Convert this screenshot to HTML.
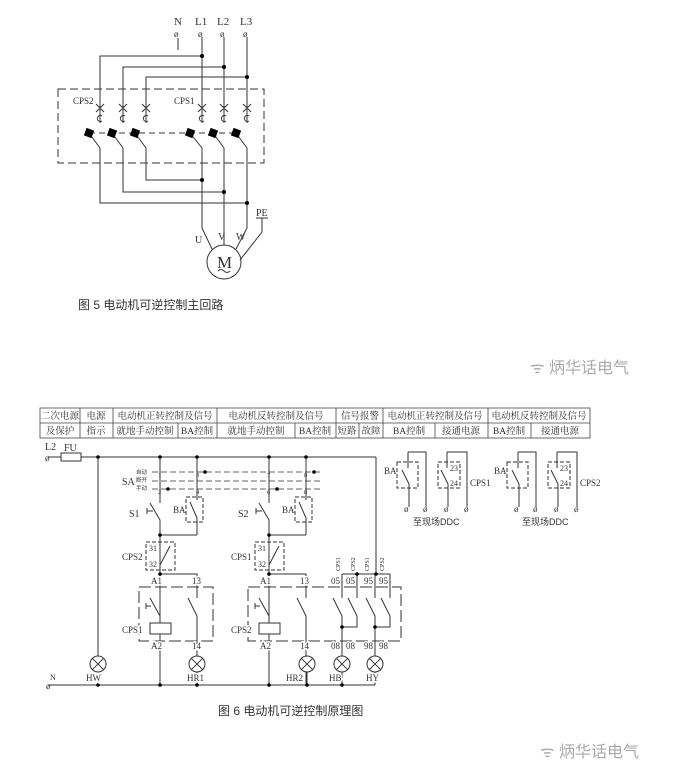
<!DOCTYPE html>
<html><head><meta charset="utf-8"><style>
html,body{margin:0;padding:0;background:#fff;}
svg{display:block;}
text{font-family:"Liberation Serif","Noto Serif CJK SC",serif;fill:#333;}
.cj{font-family:"Liberation Sans","Noto Sans CJK SC",sans-serif;}
.h{paint-order:stroke;stroke:#fff;stroke-width:3px;}
</style></head><body>
<svg width="690" height="778" viewBox="0 0 690 778" xmlns="http://www.w3.org/2000/svg">
<rect width="690" height="778" fill="#fff"/>
<g stroke="#333" stroke-width="1" fill="none">
<!-- ===== Figure 5 ===== -->
<rect x="58" y="89" width="206" height="74" stroke-dasharray="8,4"/>
<line x1="178" y1="38" x2="178" y2="50"/>
<line x1="202" y1="37" x2="202" y2="123"/>
<line x1="224" y1="37" x2="224" y2="123"/>
<line x1="247" y1="37" x2="247" y2="123"/>
<polyline points="202,56 100,56 100,123"/>
<polyline points="224,67 123,67 123,123"/>
<polyline points="247,77 146,77 146,123"/>
<g>
<path d="M96,104 l8,8 M104,104 l-8,8 M119,104 l8,8 M127,104 l-8,8 M142,104 l8,8 M150,104 l-8,8 M198,104 l8,8 M206,104 l-8,8 M220,104 l8,8 M228,104 l-8,8 M243,104 l8,8 M251,104 l-8,8"/>
<path d="M102,116 a3,3 0 1 0 0,5 M125,116 a3,3 0 1 0 0,5 M148,116 a3,3 0 1 0 0,5 M204,116 a3,3 0 1 0 0,5 M226,116 a3,3 0 1 0 0,5 M249,116 a3,3 0 1 0 0,5"/>
</g>
<line x1="89" y1="133" x2="236" y2="133" stroke-dasharray="6,4"/>
<path d="M89,133 L100,148 L100,203 L247,203 M112,133 L123,148 L123,192 L224,192 M135,133 L146,148 L146,180 L202,180"/>
<path d="M190,133 L202,148 L202,228 L212,249 M213,133 L224,148 L224,245 M236,133 L247,148 L247,228 L236,249"/>
<path d="M262,218 L262,232 L240,260"/>
<line x1="256" y1="218" x2="268" y2="218"/>
<circle cx="224" cy="262" r="17"/>
<path d="M218,271 q3,-3 6,0 q3,3 6,0"/>
</g>
<g fill="#000">
<rect x="85" y="129" width="8" height="8" transform="rotate(20 89 133)"/>
<rect x="108" y="129" width="8" height="8" transform="rotate(20 112 133)"/>
<rect x="131" y="129" width="8" height="8" transform="rotate(20 135 133)"/>
<rect x="186" y="129" width="8" height="8" transform="rotate(20 190 133)"/>
<rect x="209" y="129" width="8" height="8" transform="rotate(20 213 133)"/>
<rect x="232" y="129" width="8" height="8" transform="rotate(20 236 133)"/>
<circle cx="202" cy="56" r="2"/><circle cx="224" cy="67" r="2"/><circle cx="247" cy="77" r="2"/>
<circle cx="202" cy="180" r="2"/><circle cx="224" cy="192" r="2"/><circle cx="247" cy="203" r="2"/>
</g>
<g font-size="11">
<text x="174" y="25">N</text><text x="195" y="25">L1</text><text x="217" y="25">L2</text><text x="240" y="25">L3</text>
<text x="174" y="37" font-size="9">ø</text><text x="198" y="37" font-size="9">ø</text><text x="220" y="37" font-size="9">ø</text><text x="243" y="37" font-size="9">ø</text>
<text x="73" y="104" font-size="9">CPS2</text><text x="174" y="104" font-size="9">CPS1</text>
<text x="195" y="243" font-size="10">U</text><text x="218" y="240" font-size="10">V</text><text x="236" y="240" font-size="10">W</text>
<text x="256" y="216" font-size="10">PE</text>
<text x="217" y="268" font-size="17">M</text>
</g>
<text class="cj" x="78" y="309" font-size="12">图 5  电动机可逆控制主回路</text>
<text class="cj" x="530" y="373" font-size="16" style="fill:#aaa">ᯤ 炳华话电气</text>

<!-- ===== Figure 6 table ===== -->
<g stroke="#444" stroke-width="0.8" fill="none">
<rect x="40" y="408" width="550" height="30"/>
<line x1="40" y1="423" x2="590" y2="423"/>
<path d="M80,408V438 M113,408V438 M217,408V438 M336,408V438 M383,408V438 M488,408V438"/>
<path d="M178,423V438 M295,423V438 M359,423V438 M435,423V438 M531,423V438"/>
</g>
<g class="cj" font-size="9.5" fill="#333" text-anchor="middle">
<text x="60" y="419">二次电源</text><text x="60" y="434">及保护</text>
<text x="96" y="419">电源</text><text x="96" y="434">指示</text>
<text x="165" y="419">电动机正转控制及信号</text>
<text x="276" y="419">电动机反转控制及信号</text>
<text x="360" y="419">信号报警</text>
<text x="435" y="419">电动机正转控制及信号</text>
<text x="539" y="419">电动机反转控制及信号</text>
<text x="145" y="434">就地手动控制</text><text x="197" y="434">BA控制</text>
<text x="256" y="434">就地手动控制</text><text x="315" y="434">BA控制</text>
<text x="347" y="434">短路</text><text x="371" y="434">故障</text>
<text x="409" y="434">BA控制</text><text x="461" y="434">接通电源</text>
<text x="509" y="434">BA控制</text><text x="560" y="434">接通电源</text>
</g>

<!-- ===== Figure 6 circuit ===== -->
<g stroke="#333" stroke-width="1" fill="none">
<line x1="48" y1="457" x2="61" y2="457"/>
<rect x="61" y="453" width="20" height="8"/>
<line x1="81" y1="457" x2="376" y2="457"/>
<line x1="376" y1="457" x2="376" y2="574"/>
<line x1="98" y1="457" x2="98" y2="656"/>
<line x1="48" y1="685" x2="375" y2="685"/>
<g stroke-dasharray="6,3" stroke-width="0.8">
<line x1="152" y1="472" x2="322" y2="472"/>
<line x1="152" y1="481" x2="322" y2="481"/>
<line x1="152" y1="489" x2="322" y2="489"/>
</g>
<g id="grp">
<path d="M160,457V503 M150,503 L160,520 V573 V623 M160,634 V685"/>
<path d="M153,511 h-6 M147,508 v6 M150,511 h3"/>
<path d="M197,457V500 M190,502 L197,518 V535 M160,535 H197"/>
<rect x="186" y="497" width="17" height="25" stroke-dasharray="4,2"/>
<rect x="146" y="542" width="29" height="28" stroke-dasharray="4,2"/>
<path d="M170,546 L160,565"/>
<path d="M160,574 H197 V598 M188,598 L197,616 V656 M197,672 V685"/>
<path d="M150,598 L160,616"/>
<path d="M151,606 h-5 M146,603 v6"/>
<rect x="150" y="623" width="21" height="11"/>
</g>
<use href="#grp" x="109"/>
<rect x="139" y="587" width="74" height="54" stroke-dasharray="12,4"/>
<rect x="248" y="587" width="153" height="54" stroke-dasharray="12,4"/>
<path d="M342,574 H390 M342,574 V598 M357,574 V598 M375,574 V598 M390,574 V598"/>
<path d="M333,598 L342,616 V656 M348,598 L357,616 V627 H342 M366,598 L375,616 V656 M381,598 L390,616 V627 H375 M342,672V685 M375,672V685"/>
<line x1="307" y1="672" x2="307" y2="685"/>
<g>
<circle cx="98" cy="664" r="8"/><path d="M92.3,658.3l11.4,11.4M103.7,658.3l-11.4,11.4"/>
<circle cx="197" cy="664" r="8"/><path d="M191.3,658.3l11.4,11.4M202.7,658.3l-11.4,11.4"/>
<circle cx="307" cy="664" r="8"/><path d="M301.3,658.3l11.4,11.4M312.7,658.3l-11.4,11.4"/>
<circle cx="342" cy="664" r="8"/><path d="M336.3,658.3l11.4,11.4M347.7,658.3l-11.4,11.4"/>
<circle cx="375" cy="664" r="8"/><path d="M369.3,658.3l11.4,11.4M380.7,658.3l-11.4,11.4"/>
</g>
<g id="ddc">
<rect x="397" y="462" width="21" height="26" stroke-dasharray="4,2"/>
<path d="M408,452 H426 V507 M408,452 V468 M402,470 L409,484 V507"/>
<rect x="438" y="462" width="22" height="26" stroke-dasharray="4,2"/>
<path d="M447,452 H467 V507 M447,452 V468 M441,470 L448,484 V507"/>
</g>
<use href="#ddc" x="110"/>
</g>
<g fill="#000">
<circle cx="98" cy="457" r="1.8"/><circle cx="160" cy="457" r="1.8"/><circle cx="197" cy="457" r="1.8"/><circle cx="269" cy="457" r="1.8"/><circle cx="306" cy="457" r="1.8"/>
<circle cx="160" cy="535" r="1.8"/><circle cx="160" cy="574" r="1.8"/><circle cx="269" cy="535" r="1.8"/><circle cx="269" cy="574" r="1.8"/>
<circle cx="357" cy="574" r="1.8"/><circle cx="376" cy="574" r="1.8"/><circle cx="342" cy="627" r="1.8"/><circle cx="375" cy="627" r="1.8"/>
<circle cx="98" cy="685" r="1.8"/><circle cx="160" cy="685" r="1.8"/><circle cx="197" cy="685" r="1.8"/><circle cx="269" cy="685" r="1.8"/><circle cx="307" cy="685" r="1.8"/><circle cx="342" cy="685" r="1.8"/>
<circle cx="205" cy="472" r="1.8"/><circle cx="314" cy="472" r="1.8"/><circle cx="168" cy="489" r="1.8"/><circle cx="277" cy="489" r="1.8"/>
</g>
<g font-size="9">
<text x="45" y="450" font-size="10">L2</text><text x="64" y="451" font-size="10">FU</text>
<text x="45" y="461">ø</text><text x="46" y="689">ø</text><text x="50" y="680" font-size="8">N</text>
<text class="cj" x="136" y="474" font-size="5.5">自动</text><text class="cj" x="136" y="482" font-size="5.5">断开</text><text class="cj" x="136" y="490" font-size="5.5">手动</text>
<text x="122" y="485" font-size="10">SA</text>
<g font-size="6.5"><text x="158" y="477">1</text><text x="196" y="477">3</text><text x="267" y="477">7</text><text x="304" y="477">8</text>
<text x="158" y="494">2</text><text x="196" y="494">4</text><text x="267" y="494">6</text><text x="304" y="494">8</text></g>
<text x="129" y="517" font-size="10">S1</text><text x="238" y="517" font-size="10">S2</text>
<text x="173" y="513" font-size="9">BA</text><text x="282" y="513" font-size="9">BA</text>
<text x="122" y="560">CPS2</text><text x="231" y="560">CPS1</text>
<text x="149" y="551" font-size="8">31</text><text x="149" y="567" font-size="8">32</text>
<text x="258" y="551" font-size="8">31</text><text x="258" y="567" font-size="8">32</text>
<g class="h">
<text x="151" y="584">A1</text><text x="192" y="584">13</text><text x="260" y="584">A1</text><text x="300" y="584">13</text>
<text x="122" y="633">CPS1</text><text x="231" y="633">CPS2</text>
<text x="151" y="649">A2</text><text x="192" y="649">14</text><text x="260" y="649">A2</text><text x="300" y="649">14</text>
<text x="331" y="584">05</text><text x="346" y="584">05</text><text x="364" y="584">95</text><text x="379" y="584">95</text>
<text x="331" y="649">08</text><text x="346" y="649">08</text><text x="364" y="649">98</text><text x="379" y="649">98</text>
<text x="86" y="681">HW</text><text x="187" y="681">HR1</text><text x="286" y="681">HR2</text><text x="329" y="681">HB</text><text x="366" y="681">HY</text>
</g>
<g font-size="6"><text transform="translate(340,571) rotate(-90)">CPS1</text><text transform="translate(355,571) rotate(-90)">CPS2</text><text transform="translate(369,571) rotate(-90)">CPS1</text><text transform="translate(384,571) rotate(-90)">CPS2</text></g>
<text x="384" y="474">BA</text><text x="494" y="474">BA</text>
<text x="450" y="471" font-size="8">23</text><text x="450" y="486" font-size="8">24</text>
<text x="560" y="471" font-size="8">23</text><text x="560" y="486" font-size="8">24</text>
<text x="470" y="486">CPS1</text><text x="580" y="486">CPS2</text>
<text x="404" y="512">ø</text><text x="423" y="512">ø</text><text x="444" y="512">ø</text><text x="464" y="512">ø</text>
<text x="514" y="512">ø</text><text x="533" y="512">ø</text><text x="554" y="512">ø</text><text x="574" y="512">ø</text>
</g>
<text class="cj" x="413" y="525" font-size="9">至现场DDC</text>
<text class="cj" x="522" y="525" font-size="9">至现场DDC</text>
<text class="cj" x="218" y="715" font-size="12">图 6  电动机可逆控制原理图</text>
<text class="cj" x="540" y="757" font-size="16" style="fill:#aaa">ᯤ 炳华话电气</text>
</svg>
</body></html>
